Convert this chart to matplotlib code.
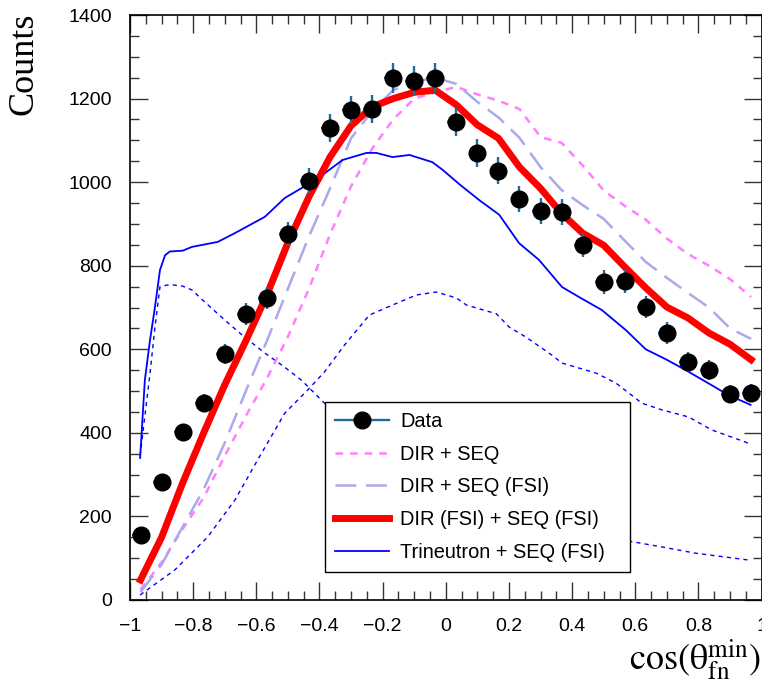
import numpy as np
import matplotlib
matplotlib.use("Agg")
import matplotlib.pyplot as plt
from matplotlib.lines import Line2D
from matplotlib.ticker import MultipleLocator, FuncFormatter

plt.rcParams['font.family'] = ['Liberation Sans', 'DejaVu Sans']
plt.rcParams['mathtext.fontset'] = 'stix'
plt.rcParams['lines.scale_dashes'] = False

# ---- data ----
n_bins = 30
bin_centers = [-1 + (i + 0.5) * 2.0 / n_bins for i in range(n_bins)]

data_counts = [155, 282, 402, 471, 589, 684, 723, 876, 1003, 1130,
               1173, 1175, 1249, 1242, 1249, 1144, 1070, 1027, 960, 931,
               929, 850, 761, 763, 701, 639, 570, 550, 493, 495]

dir_fsi_seq_fsi = [48, 150, 280, 400, 515, 620, 730, 855, 965, 1060,
                   1135, 1180, 1200, 1215, 1220, 1185, 1137, 1105, 1036, 985,
                   925, 878, 849, 797, 747, 701, 675, 639, 612, 575]

dir_seq_fsi = [19, 85, 175, 265, 376, 500, 620, 745, 870, 985,
               1105, 1170, 1220, 1240, 1250, 1235, 1192, 1155, 1106, 1036,
               981, 945, 912, 860, 809, 771, 735, 700, 650, 625]

dir_seq = [25, 90, 170, 245, 345, 440, 530, 630, 745, 875,
           990, 1080, 1150, 1200, 1215, 1228, 1210, 1195, 1175, 1108,
           1094, 1040, 980, 943, 910, 865, 828, 800, 768, 725]

trin_x = [-0.968, -0.953, -0.937, -0.921, -0.905, -0.889, -0.874, -0.833, -0.804, -0.722,
          -0.668, -0.573, -0.510, -0.447, -0.400, -0.327, -0.251, -0.220, -0.169, -0.115,
          -0.043, -0.011, 0.043, 0.106, 0.169, 0.232, 0.295, 0.368, 0.422, 0.494,
          0.570, 0.633, 0.697, 0.760, 0.842, 0.896, 0.965]
trin_y = [340, 526, 620, 701, 790, 825, 834, 836, 845, 857,
          878, 917, 962, 990, 1012, 1053, 1070, 1070, 1060, 1065,
          1048, 1030, 995, 957, 922, 854, 814, 749, 725, 694,
          646, 600, 576, 550, 514, 490, 467]

trinA_x = [-0.968, -0.953, -0.937, -0.921, -0.905, -0.874, -0.833, -0.804, -0.763, -0.700,
           -0.637, -0.573, -0.510, -0.457, -0.384, -0.210, -0.021, 0.169, 0.358, 0.557,
           0.684, 0.791, 0.965]
trinA_y = [345, 440, 540, 653, 750, 755, 751, 742, 713, 670,
           629, 591, 557, 526, 471, 370, 280, 215, 170, 144,
           127, 112, 95]

trinB_x = [-0.968, -0.858, -0.754, -0.668, -0.596, -0.510, -0.438, -0.384, -0.321, -0.242,
           -0.156, -0.093, -0.030, 0.033, 0.065, 0.160, 0.201, 0.254, 0.336, 0.368,
           0.476, 0.539, 0.621, 0.684, 0.769, 0.842, 0.949, 0.965]
trinB_y = [12, 72, 151, 239, 335, 447, 502, 546, 610, 682,
           710, 730, 737, 723, 706, 685, 653, 629, 586, 567,
           543, 519, 471, 455, 438, 407, 378, 372]

legend_labels = ["Data", "DIR + SEQ", "DIR + SEQ (FSI)",
                 "DIR (FSI) + SEQ (FSI)", "Trineutron + SEQ (FSI)"]

# ---- styles ----
c_err = '#1d6c9c'
c_pink = '#ff7fff'
c_lav = '#a9a9ec'
c_red = '#ff0000'
c_blue = '#0000ff'

W, H, DPI = 762, 681, 100
fig = plt.figure(figsize=(W / DPI, H / DPI), dpi=DPI)
ax = fig.add_axes([130 / W, (H - 600) / H, 632 / W - 0.0005, 585 / H])

ax.plot(trinB_x, trinB_y, color=c_blue, lw=1.0, ls=(0, (3, 3)), zorder=2)
ax.plot(trinA_x, trinA_y, color=c_blue, lw=1.0, ls=(0, (3, 3)), zorder=2)
ax.plot(bin_centers, dir_seq, color=c_pink, lw=1.8, ls=(0, (5.5, 5)), zorder=3)
ax.plot(bin_centers, dir_seq_fsi, color=c_lav, lw=1.8, ls=(0, (15, 7)), zorder=3)
ax.plot(trin_x, trin_y, color=c_blue, lw=1.3, zorder=3)
ax.plot(bin_centers, dir_fsi_seq_fsi, color=c_red, lw=5, zorder=4, solid_joinstyle='round')

yerr = np.sqrt(np.array(data_counts, dtype=float))
ax.errorbar(bin_centers, data_counts, yerr=yerr, xerr=0.028, fmt='none',
            ecolor=c_err, elinewidth=1.7, capsize=0, zorder=5)
ax.plot(bin_centers, data_counts, 'o', color='black', ms=12, zorder=6)

ax.set_xlim(-1, 1)
ax.set_ylim(0, 1400)
ax.xaxis.set_major_locator(MultipleLocator(0.2))
ax.xaxis.set_minor_locator(MultipleLocator(0.05))
ax.yaxis.set_major_locator(MultipleLocator(200))
ax.yaxis.set_minor_locator(MultipleLocator(50))
ax.xaxis.set_major_formatter(FuncFormatter(lambda v, p: ('%g' % round(v, 2)).replace('-', '\u2212')))
ax.yaxis.set_major_formatter(FuncFormatter(lambda v, p: '%d' % v))
ax.tick_params(which='both', direction='in', top=True, right=True, width=1.0, color='#333333')
ax.tick_params(which='major', length=13, labelsize=14, pad=13)
ax.tick_params(which='minor', length=6.5)
for s in ax.spines.values():
    s.set_linewidth(1.2)

fig.text(24 / W, 1 - 13 / H, 'Counts', rotation=90, ha='center', va='top',
         fontsize=26, family='Liberation Serif')
fig.text(0.999, 1 - 670 / H, '$\\mathrm{cos(\u03b8}^{\\mathrm{min}}_{\\mathrm{fn}}\\mathrm{)}$',
         ha='right', va='baseline', fontsize=26)

handles = [
    Line2D([], [], color=c_err, lw=1.7, marker='o', mfc='black', mec='black', ms=12),
    Line2D([], [], color=c_pink, lw=1.8, ls=(0, (5.5, 5))),
    Line2D([], [], color=c_lav, lw=1.8, ls=(0, (15, 7))),
    Line2D([], [], color=c_red, lw=5),
    Line2D([], [], color=c_blue, lw=1.3),
]
leg = ax.legend(handles, legend_labels, loc='upper left',
                bbox_to_anchor=(0.309, 0.0, 0.791 - 0.309, 0.338), mode='expand',
                borderaxespad=0, fontsize=14.4, handlelength=2.7, handletextpad=0.55,
                labelspacing=0.68, borderpad=0.5, fancybox=False, framealpha=1,
                edgecolor='black')
leg.get_frame().set_linewidth(1.0)

fig.savefig('out.png', dpi=DPI)
